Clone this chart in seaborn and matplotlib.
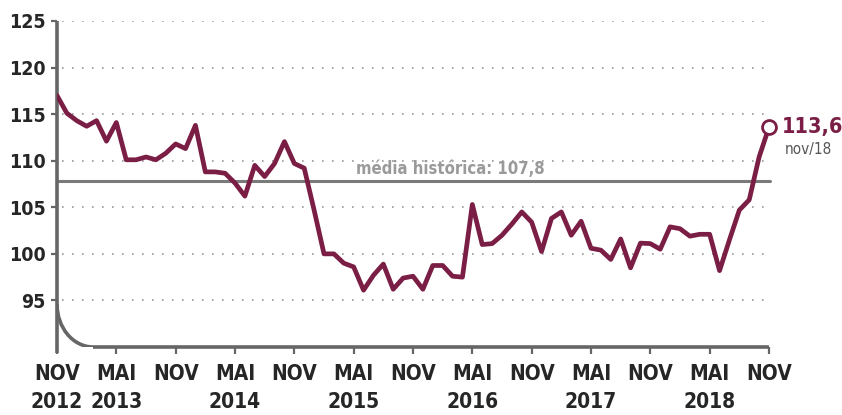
import matplotlib
matplotlib.use("Agg")
import matplotlib.pyplot as plt
from matplotlib.patches import Arc
import seaborn as sns
import pandas as pd

# monthly index, nov/2012 .. nov/2018
values = [
    117.0, 115.1, 114.3, 113.7, 114.3, 112.1, 114.1, 110.1, 110.1, 110.4,
    110.1, 110.8, 111.8, 111.3, 113.8, 108.8, 108.8, 108.65, 107.6, 106.2,
    109.5, 108.3, 109.7, 112.05, 109.7, 109.2, 104.7, 100.0, 100.0, 99.0,
    98.6, 96.1, 97.7, 98.9, 96.2, 97.4, 97.6, 96.2, 98.75, 98.75,
    97.6, 97.5, 105.3, 101.0, 101.1, 102.0, 103.2, 104.5, 103.4, 100.25,
    103.8, 104.5, 102.0, 103.5, 100.6, 100.4, 99.4, 101.6, 98.5, 101.15,
    101.1, 100.5, 102.9, 102.7, 101.9, 102.1, 102.1, 98.2, 101.5, 104.7,
    105.8, 110.4, 113.6,
]
months = list(range(len(values)))
tick_pos = list(range(0, 73, 6))
tick_labels = ["NOV\n2012", "MAI\n2013", "NOV", "MAI\n2014", "NOV", "MAI\n2015", "NOV",
               "MAI\n2016", "NOV", "MAI\n2017", "NOV", "MAI\n2018", "NOV"]
y_ticks = [95, 100, 105, 110, 115, 120, 125]
media = 107.8
last_label = "113,6"
last_date = "nov/18"

LINE = "#7b1e45"
AXIS = "#666666"

sns.set_theme(style="white")
plt.rcParams["font.family"] = ["DejaVu Sans"]
plt.rcParams["font.stretch"] = "condensed"

df = pd.DataFrame({"mes": months, "indice": values})

fig = plt.figure(figsize=(8.42, 4.15), dpi=100)
ax = fig.add_axes([57 / 842, 68 / 415, 712 / 842, 326 / 415])

# dotted grid
for yv in y_ticks:
    ax.plot([0.5, 71.7], [yv, yv], color="#9a9a9a", lw=1.2, ls=(0, (1, 5)), zorder=1)

# historical mean
ax.axhline(media, color="#7a7a7a", lw=2.2, xmin=0, xmax=1.002, zorder=2, clip_on=False)
ax.text(39.8, media + 0.35, f"média histórica: {str(media).replace('.', ',')}",
        ha="center", va="bottom", fontsize=12, fontweight="bold", color="#9a9a9a")

sns.lineplot(data=df, x="mes", y="indice", color=LINE, lw=3.4, ax=ax, zorder=4)
ax.plot(months[-1], values[-1], "o", ms=10, mfc="white", mec=LINE, mew=2, zorder=5, clip_on=False)
ax.annotate(last_label, (months[-1], values[-1]), xytext=(9, 0), textcoords="offset points",
            ha="left", va="center", fontsize=15.5, fontweight="bold", color=LINE, annotation_clip=False)
ax.annotate(last_date, (months[-1], values[-1]), xytext=(11, -16), textcoords="offset points",
            ha="left", va="center", fontsize=11, color="#555555", annotation_clip=False)

ax.set_xlim(0, 72)
ax.set_ylim(90, 125)
for s in ax.spines.values():
    s.set_visible(False)

# axes drawn by hand: vertical spine, curved break, baseline
ax.plot([0, 0], [125, 89.4], color=AXIS, lw=2.6, clip_on=False, zorder=3, solid_capstyle="butt")
ax.add_patch(Arc((3.65, 94.6), 7.3, 9.2, theta1=180, theta2=270, color=AXIS, lw=2.6, zorder=3))
ax.plot([3.6, 72], [90, 90], color=AXIS, lw=2.6, clip_on=False, zorder=3, solid_capstyle="butt")

ax.set_xticks(tick_pos)
ax.set_xticklabels(tick_labels, fontsize=15, fontweight="bold", linespacing=1.55)
ax.set_yticks(y_ticks)
ax.set_yticklabels([str(v) for v in y_ticks], fontsize=14, fontweight="bold")
ax.tick_params(axis="x", length=5, width=1.6, color=AXIS, pad=7, bottom=True)
ax.tick_params(axis="y", length=4, width=1.6, color=AXIS, pad=4, left=True)
ax.set_xlabel("")
ax.set_ylabel("")

fig.savefig("out.png", dpi=100)
